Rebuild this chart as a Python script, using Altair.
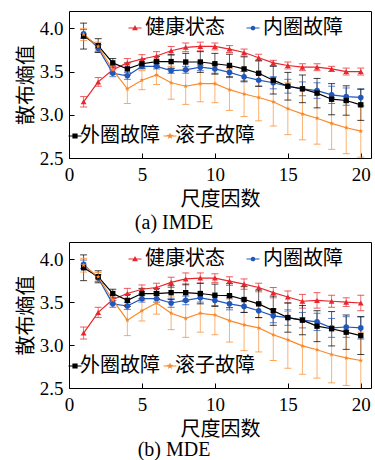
import math
import altair as alt
import pandas as pd

SCALES = [1, 2, 3, 4, 5, 6, 7, 8, 9, 10, 11, 12, 13, 14, 15, 16, 17, 18, 19, 20]
SERIES = ["健康状态", "内圈故障", "外圈故障", "滚子故障"]
COLORS = ["#e8262b", "#2157bd", "#000000", "#f98a2b"]
X_TICKS = [0, 5, 10, 15, 20]
Y_TICKS = [2.5, 3.0, 3.5, 4.0]
CAPTIONS = ["(a)  IMDE", "(b)  MDE"]
X_TITLE = "尺度因数"
Y_TITLE = "散布熵值"

# ---- (a) IMDE ----
IMDE_H = [3.15, 3.38, 3.52, 3.60, 3.645, 3.68, 3.74, 3.78, 3.79, 3.79, 3.76, 3.72, 3.66, 3.60, 3.57, 3.55, 3.55, 3.53, 3.50, 3.50]
IMDE_H_ERR = [0.06, 0.05, 0.04, 0.05, 0.05, 0.05, 0.05, 0.05, 0.05, 0.04, 0.04, 0.04, 0.04, 0.03, 0.04, 0.04, 0.04, 0.03, 0.04, 0.04]
IMDE_I = [3.935, 3.77, 3.48, 3.45, 3.56, 3.56, 3.51, 3.52, 3.55, 3.53, 3.49, 3.44, 3.40, 3.37, 3.33, 3.30, 3.28, 3.23, 3.21, 3.20]
IMDE_I_ERR = [0.05, 0.04, 0.04, 0.04, 0.03, 0.03, 0.03, 0.04, 0.04, 0.05, 0.06, 0.06, 0.07, 0.07, 0.08, 0.08, 0.09, 0.10, 0.10, 0.10]
IMDE_O = [3.91, 3.80, 3.60, 3.53, 3.59, 3.615, 3.615, 3.61, 3.61, 3.59, 3.57, 3.53, 3.48, 3.40, 3.33, 3.30, 3.25, 3.18, 3.165, 3.115]
IMDE_O_ERR = [0.15, 0.08, 0.05, 0.07, 0.05, 0.06, 0.08, 0.10, 0.12, 0.12, 0.13, 0.14, 0.15, 0.16, 0.16, 0.16, 0.17, 0.18, 0.17, 0.18]
IMDE_R = [3.93, 3.79, 3.52, 3.30, 3.40, 3.46, 3.37, 3.33, 3.36, 3.36, 3.29, 3.24, 3.20, 3.15, 3.07, 3.01, 2.96, 2.90, 2.85, 2.81]
IMDE_R_ERR = [0.07, 0.05, 0.05, 0.17, 0.11, 0.11, 0.19, 0.21, 0.21, 0.22, 0.24, 0.26, 0.27, 0.28, 0.30, 0.30, 0.30, 0.30, 0.30, 0.30]

# ---- (b) MDE ----
MDE_H = [3.14, 3.38, 3.53, 3.60, 3.65, 3.67, 3.73, 3.77, 3.78, 3.78, 3.745, 3.71, 3.67, 3.61, 3.56, 3.51, 3.52, 3.51, 3.50, 3.49]
MDE_H_ERR = [0.07, 0.06, 0.05, 0.06, 0.05, 0.05, 0.06, 0.07, 0.06, 0.05, 0.05, 0.06, 0.05, 0.06, 0.07, 0.08, 0.09, 0.07, 0.05, 0.09]
MDE_I = [3.94, 3.78, 3.48, 3.455, 3.54, 3.54, 3.49, 3.52, 3.55, 3.52, 3.48, 3.45, 3.40, 3.34, 3.32, 3.29, 3.27, 3.20, 3.21, 3.20]
MDE_I_ERR = [0.05, 0.04, 0.04, 0.04, 0.04, 0.04, 0.05, 0.05, 0.05, 0.06, 0.07, 0.07, 0.08, 0.08, 0.09, 0.09, 0.10, 0.11, 0.12, 0.13]
MDE_O = [3.90, 3.795, 3.60, 3.52, 3.60, 3.60, 3.61, 3.61, 3.60, 3.58, 3.575, 3.53, 3.48, 3.40, 3.32, 3.29, 3.22, 3.19, 3.15, 3.11]
MDE_O_ERR = [0.15, 0.07, 0.05, 0.07, 0.06, 0.06, 0.08, 0.10, 0.12, 0.13, 0.14, 0.15, 0.16, 0.17, 0.17, 0.17, 0.18, 0.20, 0.20, 0.22]
MDE_R = [3.93, 3.795, 3.525, 3.29, 3.40, 3.49, 3.37, 3.31, 3.37, 3.35, 3.285, 3.235, 3.20, 3.12, 3.06, 2.99, 2.945, 2.89, 2.85, 2.82]
MDE_R_ERR = [0.08, 0.05, 0.05, 0.18, 0.12, 0.13, 0.19, 0.22, 0.22, 0.23, 0.25, 0.30, 0.28, 0.30, 0.33, 0.33, 0.33, 0.33, 0.32, 0.33]

W = 302
NUM_FONT = "Liberation Serif"
TXT_FONT = "Liberation Serif, Noto Sans CJK SC"


def star_path(ro, ri):
    pts = []
    for k in range(10):
        r = ro if k % 2 == 0 else ri
        a = -math.pi / 2 + k * math.pi / 5
        pts.append((r * math.cos(a), r * math.sin(a)))
    return "M" + "L".join(f"{px:.3f},{py:.3f}" for px, py in pts) + "Z"


STAR = star_path(1.0, 0.42)
LINE = "M-1,-0.07L1,-0.07L1,0.07L-1,0.07Z"
LEG_PATHS = [
    LINE + "M0,-0.45L0.45,0.35L-0.45,0.35Z",
    LINE + "M0.36,0A0.36,0.36 0 1,1 -0.36,0A0.36,0.36 0 1,1 0.36,0Z",
    LINE + "M-0.4,-0.4L0.4,-0.4L0.4,0.4L-0.4,0.4Z",
    LINE + star_path(0.55, 0.23),
]
SHAPES = ["triangle-up", "circle", "square", STAR]
SIZES = [34, 26, 36, 42]


def make_df(vals, errs):
    rows = []
    for name, v, e in zip(SERIES, vals, errs):
        for s, vv, ee in zip(SCALES, v, e):
            rows.append({"scale": s, "series": name, "val": vv, "lo": vv - ee, "hi": vv + ee})
    return pd.DataFrame(rows)


xscale = alt.Scale(domain=[0, 20.7], nice=False, zero=False)
yscale = alt.Scale(domain=[2.5, 4.2], nice=False, zero=False)
main_x_axis = alt.Axis(values=X_TICKS, ticks=False, tickSize=0, domain=False, labelFlush=False,
                       labelFont=NUM_FONT, labelFontSize=19, labelPadding=7, labelColor="black",
                       titleFont=TXT_FONT, titleFontSize=20, titleFontWeight="normal",
                       titlePadding=5, titleColor="black")
main_y_axis = alt.Axis(values=Y_TICKS, format=".1f", ticks=False, tickSize=0, domain=False,
                       labelFlush=False, labelFont=NUM_FONT, labelFontSize=19, labelPadding=6,
                       labelColor="black", titleFont=TXT_FONT, titleFontSize=20,
                       titleFontWeight="normal", titlePadding=3, titleColor="black")


def X():
    return alt.X("scale:Q", scale=xscale, axis=main_x_axis, title=X_TITLE)


def Y(field):
    return alt.Y(f"{field}:Q", scale=yscale, axis=main_y_axis, title=Y_TITLE)


def data_layer(df):
    base = alt.Chart(df)
    col = alt.Color("series:N", scale=alt.Scale(domain=SERIES, range=COLORS), legend=None)
    rules = base.mark_rule(clip=True, opacity=0.65, strokeWidth=1).encode(
        x=X(), y=Y("lo"), y2="hi:Q", color=col)
    cap_lo = base.mark_tick(orient="horizontal", size=7, thickness=1, clip=True, opacity=0.75).encode(
        x=X(), y=Y("lo"), color=col)
    cap_hi = base.mark_tick(orient="horizontal", size=7, thickness=1, clip=True, opacity=0.75).encode(
        x=X(), y=Y("hi"), color=col)
    line = base.mark_line(strokeWidth=1.2, clip=True).encode(
        x=X(), y=Y("val"), color=col, detail="series:N")
    pts = base.mark_point(filled=True, opacity=1, clip=True).encode(
        x=X(), y=Y("val"), color=col,
        shape=alt.Shape("series:N", scale=alt.Scale(domain=SERIES, range=SHAPES), legend=None),
        size=alt.Size("series:N", scale=alt.Scale(domain=SERIES, range=SIZES), legend=None))
    return alt.layer(rules, cap_lo, cap_hi, line, pts)


def tick_layer(df, h):
    tick_x_axis = alt.Axis(orient="top", offset=-h, values=X_TICKS, labels=False, domain=False,
                           ticks=True, tickSize=5, tickColor="black", title=None)
    tick_y_axis = alt.Axis(orient="right", offset=-W, values=Y_TICKS, labels=False, domain=False,
                           ticks=True, tickSize=5, tickColor="black", title=None)
    return alt.Chart(df).mark_point(opacity=0).encode(
        x=alt.X("scale:Q", scale=xscale, axis=tick_x_axis),
        y=alt.Y("val:Q", scale=yscale, axis=tick_y_axis))


def legend_layer(idx, lx, ly, colpad, laboff):
    names = [SERIES[i] for i in idx]
    leg = alt.Legend(orient="none", legendX=lx, legendY=ly, direction="horizontal", title=None,
                     symbolSize=169, symbolStrokeWidth=0, symbolOpacity=1, columnPadding=colpad,
                     labelOffset={"expr": str(laboff)}, labelFont=TXT_FONT, labelFontSize=20,
                     labelColor="black", padding=0, labelLimit=200)
    return alt.Chart(pd.DataFrame({"series": names})).transform_filter("false").mark_point(
        filled=True, opacity=1).encode(
        color=alt.Color("series:N", scale=alt.Scale(domain=names, range=[COLORS[i] for i in idx]), legend=leg),
        shape=alt.Shape("series:N", scale=alt.Scale(domain=names, range=[LEG_PATHS[i] for i in idx]), legend=leg))


def panel(vals, errs, caption, h, cap_offset):
    df = make_df(vals, errs)
    return alt.layer(
        data_layer(df), tick_layer(df, h),
        legend_layer([0, 1], 56, 7, 18, 0),
        legend_layer([2, 3], -4, h - 32, 0, -5),
    ).resolve_scale(color="independent", shape="independent").resolve_axis(
        x="independent", y="independent").properties(
        width=W, height=h,
        title=alt.TitleParams(text=caption, orient="bottom", anchor="middle", dx=-46, offset=cap_offset,
                              font=NUM_FONT, fontSize=20, fontWeight="normal", color="black"))


pa = panel([IMDE_H, IMDE_I, IMDE_O, IMDE_R], [IMDE_H_ERR, IMDE_I_ERR, IMDE_O_ERR, IMDE_R_ERR],
           CAPTIONS[0], 147, 4)
pb = panel([MDE_H, MDE_I, MDE_O, MDE_R], [MDE_H_ERR, MDE_I_ERR, MDE_O_ERR, MDE_R_ERR],
           CAPTIONS[1], 146, 1)

chart = alt.vconcat(pa, pb, spacing=7).properties(
    padding={"left": 15, "top": 10, "right": 2, "bottom": 0},
    background="white",
).configure_view(stroke="black", strokeWidth=1).configure_axis(grid=False)

chart.save("out.html", embed_options={"renderer": "svg", "actions": False})
